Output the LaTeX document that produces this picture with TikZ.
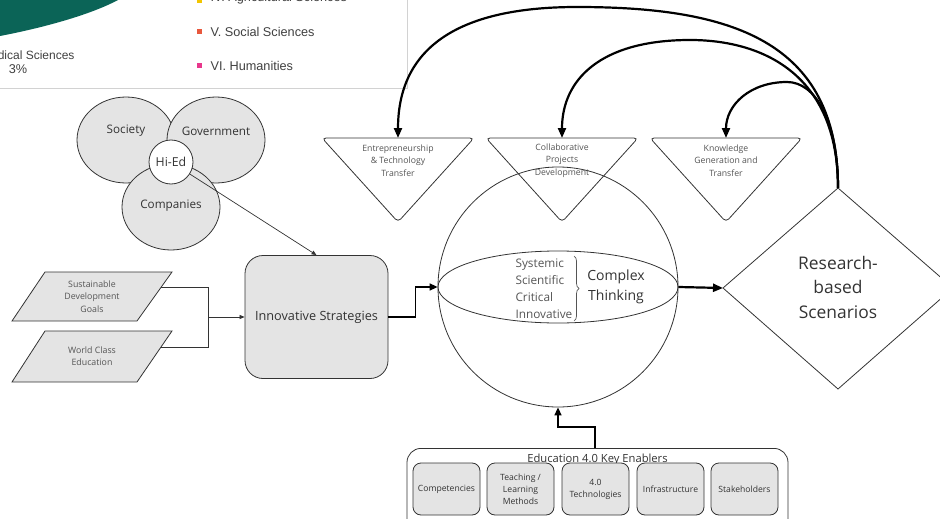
\documentclass[tikz,border=0pt]{standalone}
\usepackage{fontspec}
\setmainfont{Open Sans}
\newfontfamily\chartfont{Liberation Sans}
\usetikzlibrary{arrows.meta,decorations.pathreplacing,shapes.geometric}

\definecolor{ink}{HTML}{333333}
\definecolor{boxfill}{HTML}{E4E4E4}
\definecolor{txt}{HTML}{333333}
\definecolor{softtxt}{HTML}{555555}
\definecolor{chartgreen}{HTML}{0B6457}
\definecolor{chartgray}{HTML}{404040}
\definecolor{framegray}{HTML}{D2D2D2}
\definecolor{legyellow}{HTML}{F2C500}
\definecolor{legorange}{HTML}{E8583D}
\definecolor{legpink}{HTML}{E8378C}

\newcommand{\fsz}[2]{\fontsize{#1}{#2}\selectfont}

\tikzset{
  outline/.style={draw=ink, line width=0.8pt},
  vennset/.style={outline, fill=boxfill, ellipse, inner sep=0pt,
    minimum width=98pt, minimum height=86pt},
  vennlabel/.style={text=txt, font=\fsz{11.7}{14}},
  hubnode/.style={outline, fill=white, circle, inner sep=0pt,
    minimum size=44pt, text=txt, font=\fsz{12.3}{14}},
  inputshape/.style={outline, fill=boxfill},
  inputtext/.style={text=softtxt, align=center, font=\fsz{8.8}{12.2}},
  stratbox/.style={outline, fill=boxfill, rounded corners=18pt,
    minimum width=143pt, minimum height=123pt, text=txt, font=\fsz{12.7}{15}},
  funnel/.style={outline, rounded corners=4pt},
  funneltext/.style={text=softtxt, align=center, font=\fsz{8.7}{12.5}},
  enablerbox/.style={outline, fill=boxfill, rounded corners=8pt,
    minimum width=67pt, minimum height=52pt, inner sep=1pt,
    text=txt, align=center, font=\fsz{8.6}{12}},
  thinarrow/.style={draw=ink, line width=0.7pt, -{Triangle[length=5pt,width=4pt]}},
  medarrow/.style={draw=black, line width=1.6pt, -{Triangle[length=8pt,width=7pt]}},
  bigarrow/.style={draw=black, line width=2.2pt, -{Triangle[length=10pt,width=8pt]}},
  charttext/.style={text=chartgray, font=\chartfont\fsz{12.7}{15}},
  legendtext/.style={charttext, anchor=west},
}

\begin{document}
\begin{tikzpicture}[x=1pt,y=-1pt]
\useasboundingbox (0,0) rectangle (940,519);
\clip (0,0) rectangle (940,519);

% ---- chart panel in the upper left corner
\fill[chartgreen] (0,0) -- (0,36) .. controls (42,28) and (90,15) .. (118,0) -- cycle;
\node[charttext, font=\chartfont\fsz{12}{14}, anchor=east] (medlabel) at (78,55) {Medical Sciences};
\node[charttext] (medvalue) at (18,69) {3\%};
\fill[legyellow] (197,-2) rectangle (202,3);
\node[legendtext] (legiv) at (207,-2) {IV. Agricultural Sciences};
\fill[legorange] (197,29.5) rectangle (202,34.5);
\node[legendtext] (legv) at (207,32) {V. Social Sciences};
\fill[legpink] (197,63.5) rectangle (202,68.5);
\node[legendtext] (legvi) at (207,66) {VI. Humanities};
\draw[framegray, line width=0.9pt] (0,88.5) -- (407,88.5) -- (407,0);

% ---- actors
\node[vennset, label={[vennlabel, yshift=9pt]center:Society}] (soc) at (126,140) {};
\node[vennset, label={[vennlabel, yshift=9pt]center:Government}] (gov) at (216,140) {};
\node[vennset, label={[vennlabel, yshift=1pt]center:Companies}] (comp) at (171,207) {};
\node[hubnode] (hied) at (171,162) {Hi-Ed};

% ---- inputs
\draw[inputshape] (45,272) -- (172,272) -- (137,321) -- (12,321) -- cycle;
\node[inputtext] (sdg) at (92,296.5) {Sustainable\\Development\\Goals};
\draw[inputshape] (45,331) -- (172,331) -- (137,382) -- (12,382) -- cycle;
\node[inputtext] (wce) at (92,356) {World Class\\Education};
\coordinate (sdgR) at (161,287);
\coordinate (wceR) at (161,347);
\coordinate (merge) at (208,317);

\node[stratbox] (is) at (316.5,317) {Innovative Strategies};

\draw[draw=ink, line width=0.8pt] (sdgR) -- (merge |- sdgR) -- (merge |- wceR) -- (wceR);
\draw[thinarrow] (merge) -- (is.west);
\draw[thinarrow] (hied) -- (is.north);

% ---- complex thinking sphere
\node[outline, circle, minimum size=240pt, inner sep=0pt] (sph) at (558,287) {};
\draw[outline] (sph.center) ellipse [x radius=120, y radius=36];
\node[anchor=west, align=left, text=softtxt, font=\fsz{11.8}{17}] (modes) at (512,288.5)
  {Systemic\\Scientific\\Critical\\Innovative};
\draw[draw=softtxt, line width=0.7pt, decorate, decoration={brace, amplitude=5pt}]
  (574,256) -- (574,321);
\node[align=center, text=txt, font=\fsz{14}{20}] (ct) at (616,287) {Complex\\Thinking};

\draw[medarrow] (is.east) -- ++(27,0) |- (sph.west);

% ---- research-based scenarios
\coordinate (rstop) at (838,188);
\coordinate (rsleft) at (723,288);
\draw[outline] (rstop) -- (953,288) -- (838,389) -- (rsleft) -- cycle;
\node[align=center, text=txt, font=\fsz{17.4}{24.5}] (rs) at (838,287)
  {Research-\\based\\Scenarios};
\draw[bigarrow] (sph.east) -- (rsleft);

% ---- outcome funnels
\draw[funnel] (322,138) -- (474,138) -- (398,222) -- cycle;
\coordinate (t1top) at (398,138);
\node[funneltext] (t1) at (398,160.5) {Entrepreneurship\\\& Technology\\Transfer};
\draw[funnel] (486,138) -- (638,138) -- (562,222) -- cycle;
\coordinate (t2top) at (562,138);
\node[funneltext] (t2) at (562,160.5) {Collaborative\\Projects\\Development};
\draw[funnel] (650,138) -- (802,138) -- (726,222) -- cycle;
\coordinate (t3top) at (726,138);
\node[funneltext] (t3) at (726,160.5) {Knowledge\\Generation and\\Transfer};

% ---- feedback loops
\draw[bigarrow] (rstop) .. controls (838,40) and (730,7) .. (577,7)
  .. controls (470,7) and (398,40) .. (t1top);
\draw[bigarrow] (rstop) .. controls (838,72) and (760,40) .. (690,40)
  .. controls (600,40) and (562,80) .. (t2top);
\draw[bigarrow] (rstop) .. controls (838,120) and (815,82) .. (787,82)
  .. controls (750,82) and (726,105) .. (t3top);

% ---- key enablers
\node[outline, fill=white, rounded corners=14pt, minimum width=381pt, minimum height=90pt,
  anchor=north] (en) at (597.5,448) {};
\node[text=txt, font=\fsz{11.2}{13}] (entitle) at (597.5,460) {Education 4.0 Key Enablers};
\node[enablerbox] (e1) at (446.5,489) {Competencies};
\node[enablerbox] (e2) at (520.5,489) {Teaching /\\Learning\\Methods};
\node[enablerbox] (e3) at (595.5,489) {4.0\\Technologies};
\node[enablerbox] (e4) at (670.5,489) {Infrastructure};
\node[enablerbox] (e5) at (744.5,489) {Stakeholders};
\draw[medarrow] ([xshift=-2.5pt]en.north) -- ++(0,-21) -| (sph.south);
\end{tikzpicture}
\end{document}
